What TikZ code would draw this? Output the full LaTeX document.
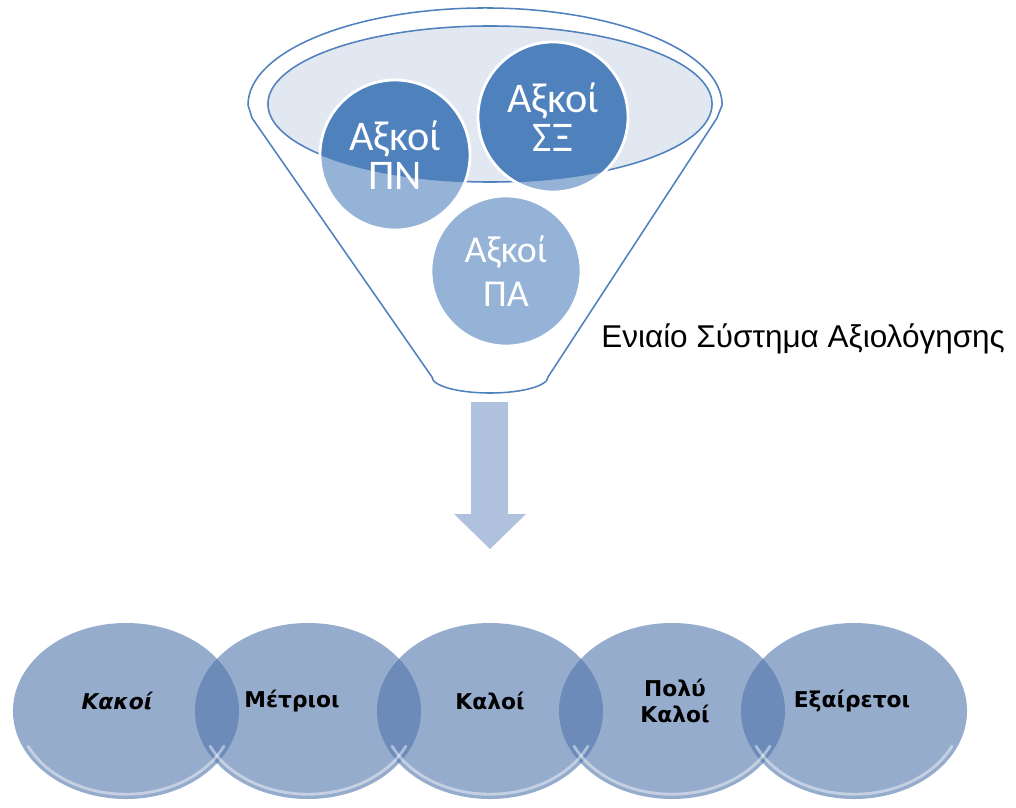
\documentclass[tikz,border=0pt]{standalone}
\usepackage{fontspec}
\setmainfont{Liberation Sans}
\newfontfamily\calib{Carlito}
\newfontfamily\dejab{DejaVu Sans}
\usetikzlibrary{shapes.geometric,calc}

\definecolor{funnelblue}{RGB}{79,129,189}
\definecolor{lightblue}{RGB}{149,179,215}
\definecolor{rimfill}{RGB}{226,232,242}
\definecolor{arrowblue}{RGB}{176,193,221}
\definecolor{gradeblue}{RGB}{80,117,172}

\tikzset{
  funnel line/.style={draw=funnelblue, line width=1.1pt},
  every axis/.style={circle, minimum size=3.75cm, inner sep=0pt, fill=lightblue,
    draw=white, line width=2pt, text=white, align=center,
    font=\calib\fontsize{30}{28}\selectfont,
    path picture={
      \fill[funnelblue] (rim) ellipse [x radius=5.55cm, y radius=1.95cm];
      \draw[funnel line] (rim) ellipse [x radius=5.55cm, y radius=1.95cm];
    }},
  axis pa/.style={font=\calib\fontsize{27}{31}\selectfont},
  every grade/.style={ellipse, minimum width=5.65cm, minimum height=4.4cm, inner sep=0pt,
    fill=gradeblue, fill opacity=.6},
  grade text/.style={align=center, font=\dejab\bfseries\fontsize{15.5}{18}\selectfont},
  grade text 1/.style={font=\dejab\bfseries\itshape\fontsize{15.5}{18}\selectfont},
  rim light/.style={white, opacity=.45, line width=2pt, line cap=round},
}

\begin{document}
\begin{tikzpicture}[x=0.025cm, y=-0.025cm]
\useasboundingbox (0,0) rectangle (1016,807);

\coordinate (rim) at (490,104);

\draw [funnel line, fill=white] (248,105)
  arc [start angle=180, end angle=0, x radius=5.925cm, y radius=2.425cm]
  -- (717,118) -- (548,377)
  arc [start angle=0, end angle=-180, x radius=1.45cm, y radius=0.4cm]
  -- (252,118) -- cycle;
\draw [funnel line, fill=rimfill] (rim) ellipse [x radius=5.55cm, y radius=1.95cm];

\foreach \m/\x/\y/\l in {pn/395/155/ΠΝ, se/553/117/ΣΞ, pa/506/271/ΠΑ}
  \node [every axis/.try, axis \m/.try] (axis-\m) at (\x,\y) {Αξκοί\\\l};

\node [anchor=base west, inner sep=0pt, font=\fontsize{22.4}{26}\selectfont]
  (system) at (601,347) {Ενιαίο Σύστημα Αξιολόγησης};

\fill [arrowblue] (471,402) -- (508,402) -- (508,514) -- (526,514)
  -- (490,549) -- (454,514) -- (471,514) -- cycle;

\foreach \i in {1,...,5}
  \node [every grade/.try] (grade-\i) at ({126+182*(\i-1)},711) {};

\foreach \i in {1,...,5}
  \draw [rim light] ($(grade-\i.center)+(205:2.7cm and 2.08cm)$)
    arc [start angle=205, end angle=335, x radius=2.7cm, y radius=2.08cm];

\foreach \l/\d [count=\i] in {Κακοί/-9, Μέτριοι/-16, Καλοί/0, Πολύ\\Καλοί/3, Εξαίρετοι/-2}
  \node [grade text, grade text \i/.try] (label-\i) at ($(grade-\i)+(\d,-10)$) {\l};

\end{tikzpicture}
\end{document}
